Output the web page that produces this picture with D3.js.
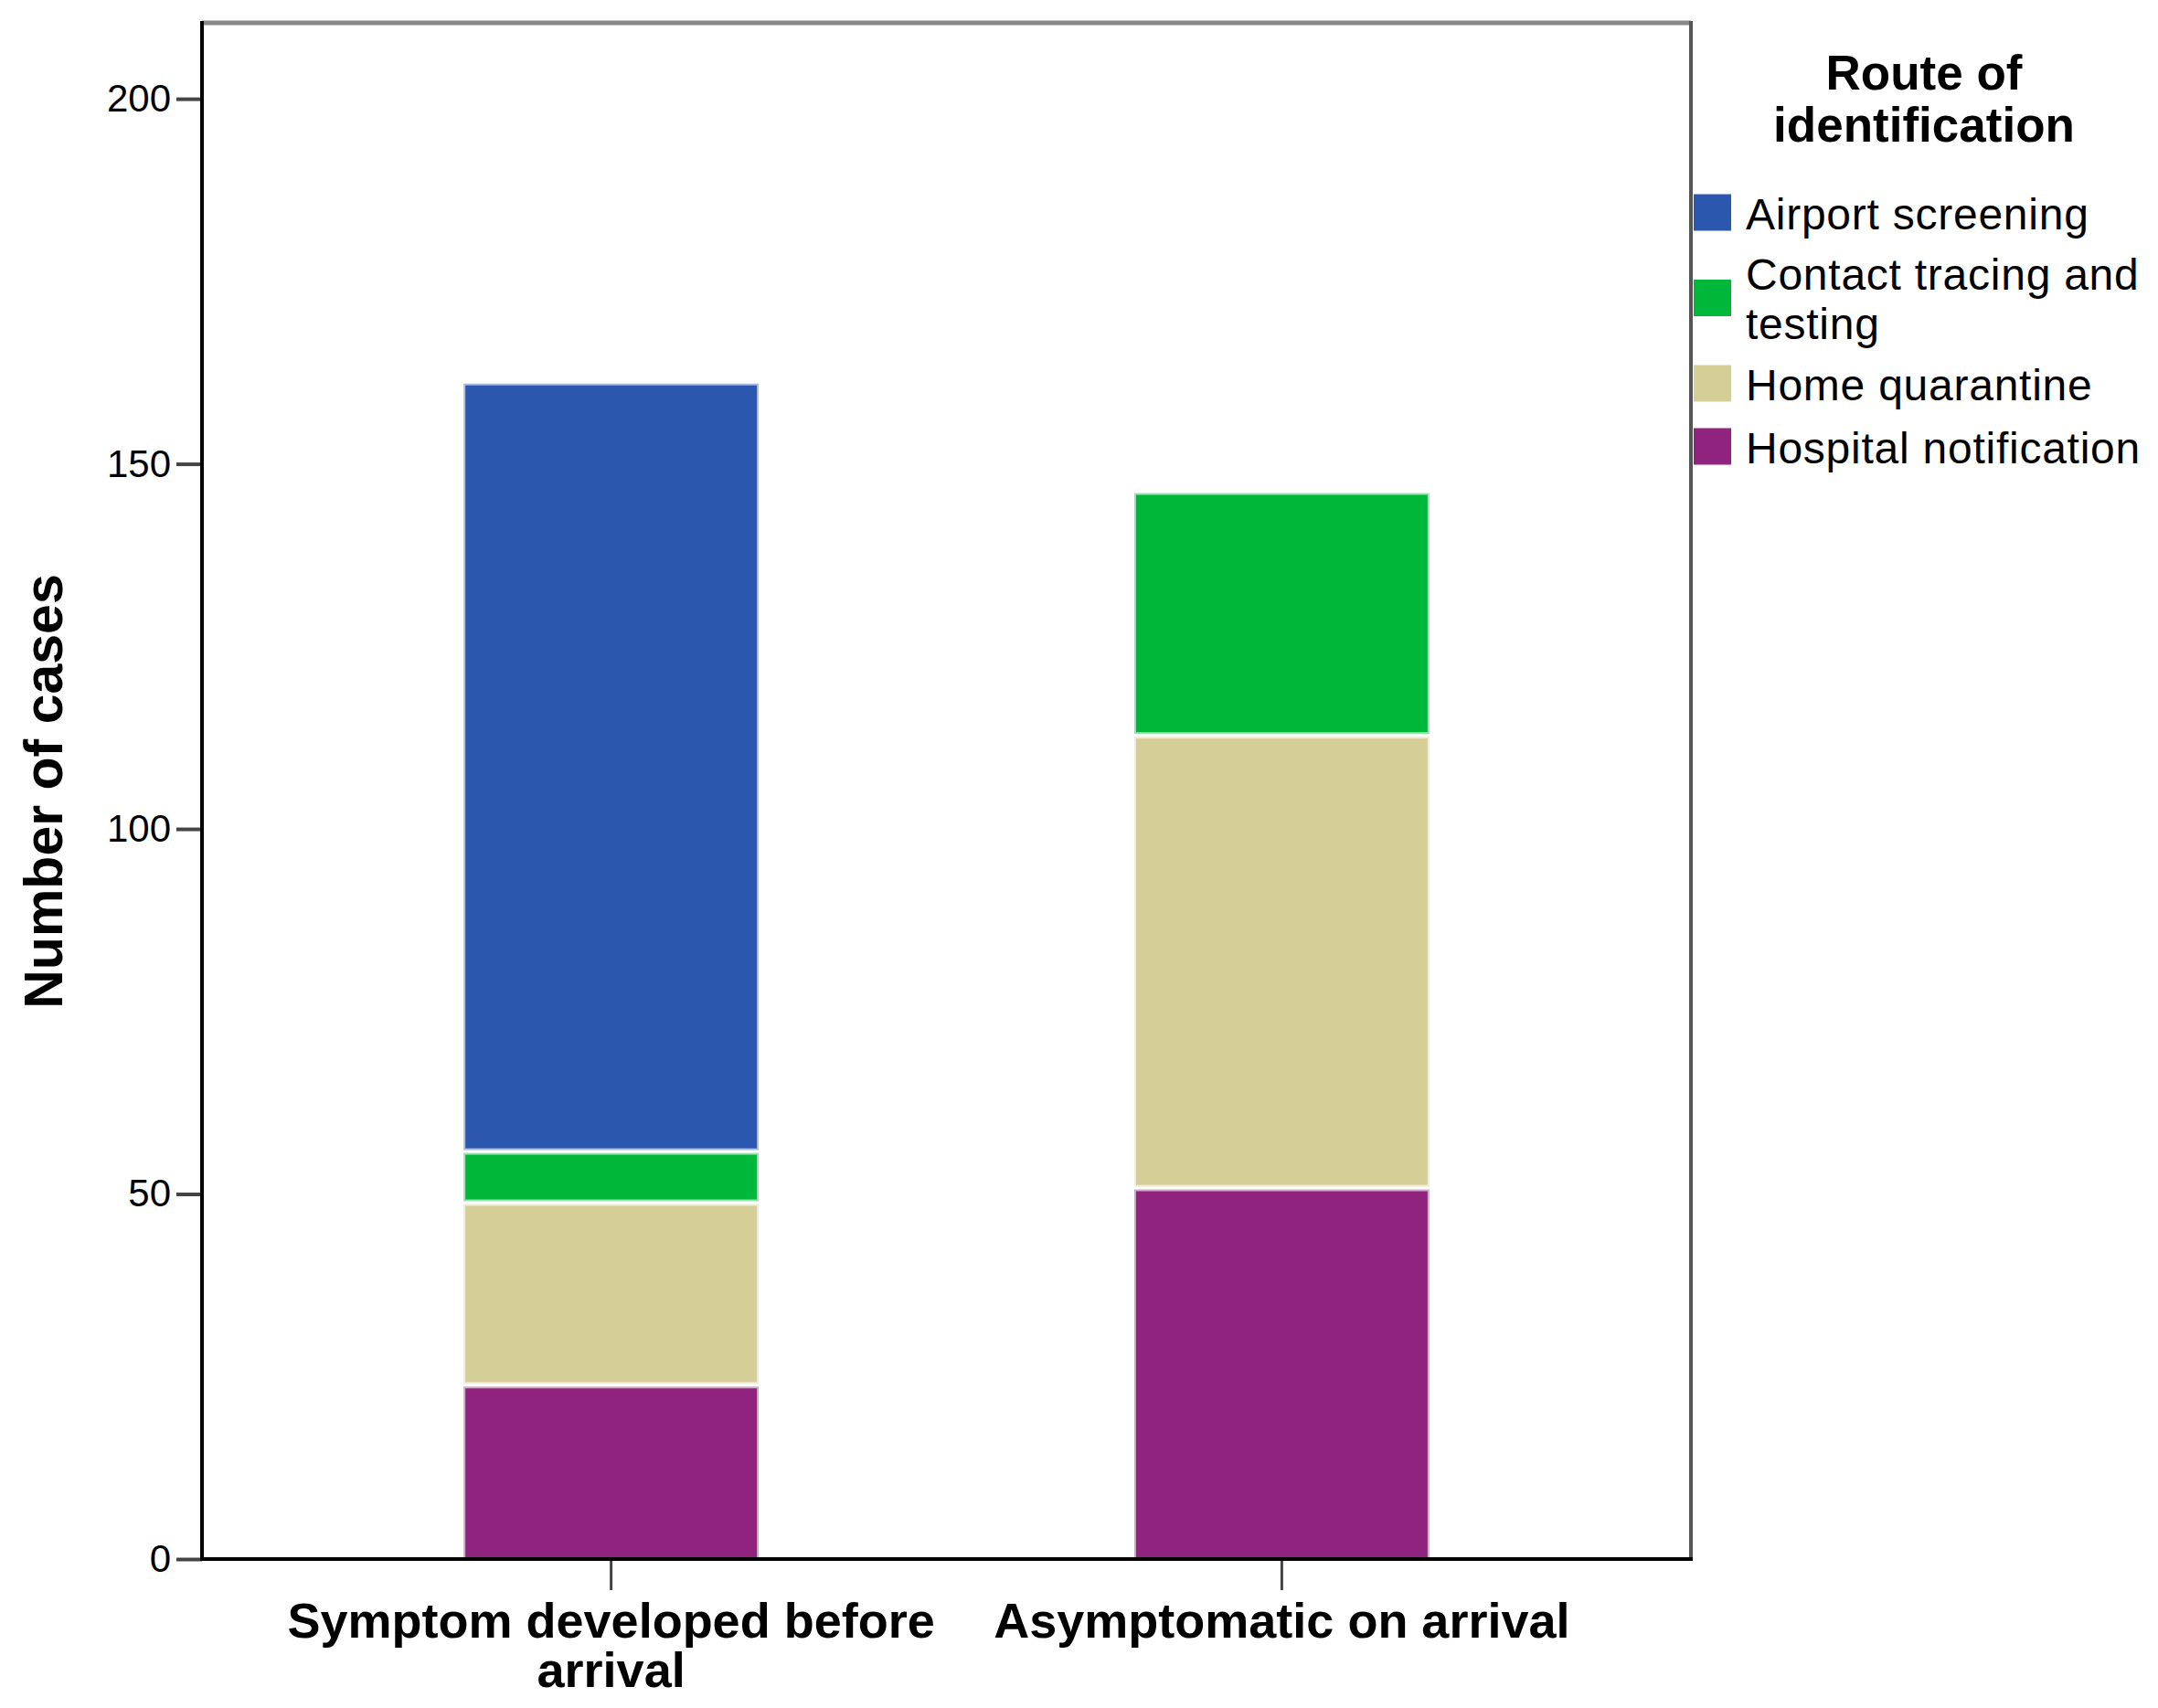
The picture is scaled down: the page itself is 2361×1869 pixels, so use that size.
<!DOCTYPE html>
<html>
<head>
<meta charset="utf-8">
<script src="https://cdn.jsdelivr.net/npm/d3@7"></script>
<style>
  body { margin: 0; background: #fff; }
  text { font-family: "Liberation Sans", Arial, sans-serif; }
</style>
</head>
<body>
<script>
// categories on the x axis
const categories = ["Symptom developed before arrival", "Asymptomatic on arrival"];

// counts per route, one value per category
const airportScreening = [105, 0];
const contactTracing = [7, 33];
const homeQuarantine = [25, 62];
const hospitalNotification = [24, 51];

// series, bottom of the stack first
const seriesKeys = ["Hospital notification", "Home quarantine", "Contact tracing and testing", "Airport screening"];
const seriesColors = ["#8F237E", "#D5CF97", "#00B739", "#2B58AE"];
// legend order (top to bottom)
const legendKeys = ["Airport screening", "Contact tracing and testing", "Home quarantine", "Hospital notification"];

const yTicks = [0, 50, 100, 150, 200];
const yMax = 210.4;

function drawChart() {
  const w = 2361;
  const h = 1869;
  const plot = { left: 221, right: 1850, top: 25, bottom: 1706 };

  // build rows for d3.stack
  const rows = categories.map((c, i) => ({
    category: c,
    "Airport screening": airportScreening[i],
    "Contact tracing and testing": contactTracing[i],
    "Home quarantine": homeQuarantine[i],
    "Hospital notification": hospitalNotification[i]
  }));
  const stacked = d3.stack().keys(seriesKeys)(rows);

  const color = d3.scaleOrdinal().domain(seriesKeys).range(seriesColors);

  const x = d3.scaleBand()
    .domain(categories)
    .range([plot.left, plot.right])
    .paddingInner(0.56)
    .paddingOuter(0.39);

  const y = d3.scaleLinear()
    .domain([0, yMax])
    .range([plot.bottom, plot.top]);

  const svg = d3.select("body")
    .append("svg")
    .attr("width", w)
    .attr("height", h);

  // total height of each bar, so the top segment gets no gap
  const totals = categories.map((c, i) => d3.max(stacked, s => s[i][1]));

  // bars
  const gap = 4;
  svg.append("g")
    .selectAll("g")
    .data(stacked).enter()
    .append("g")
    .attr("fill", d => color(d.key))
    .attr("stroke", d => d3.interpolateRgb(color(d.key), "#fff")(0.6))
    .attr("stroke-width", 2)
    .selectAll("rect")
    .data(d => d.map((v, i) => ({ v, i })).filter(p => p.v[1] - p.v[0] > 0))
    .enter()
    .append("rect")
    .attr("x", d => x(categories[d.i]) + 1)
    .attr("width", x.bandwidth() - 2)
    .attr("y", d => y(d.v[1]) + (d.v[1] === totals[d.i] ? 1 : gap))
    .attr("height", d => {
      const top = y(d.v[1]) + (d.v[1] === totals[d.i] ? 1 : gap);
      return Math.max(0, y(d.v[0]) - top - 1);
    });

  // y axis
  const yAxis = svg.append("g")
    .attr("transform", `translate(${plot.left},0)`)
    .call(d3.axisLeft(y).tickValues(yTicks).tickSize(28).tickSizeOuter(0).tickPadding(6));
  yAxis.select(".domain").remove();
  yAxis.selectAll(".tick line").attr("stroke", "#444").attr("stroke-width", 4);
  yAxis.selectAll(".tick text")
    .attr("fill", "#000")
    .style("font-size", "42px");

  // x axis
  const xAxis = svg.append("g")
    .attr("transform", `translate(0,${plot.bottom})`)
    .call(d3.axisBottom(x).tickSize(34).tickSizeOuter(0).tickPadding(14));
  xAxis.select(".domain").remove();
  xAxis.selectAll(".tick line").attr("stroke", "#444").attr("stroke-width", 3);
  xAxis.selectAll(".tick text")
    .attr("fill", "#000")
    .style("font-size", "54px")
    .style("font-weight", "bold")
    .call(wrap, 720);

  // frame
  svg.append("line")
    .attr("x1", plot.left).attr("x2", plot.right)
    .attr("y1", plot.top).attr("y2", plot.top)
    .attr("stroke", "#888").attr("stroke-width", 5);
  svg.append("line")
    .attr("x1", plot.right).attr("x2", plot.right)
    .attr("y1", plot.top - 2).attr("y2", plot.bottom)
    .attr("stroke", "#555").attr("stroke-width", 4);
  svg.append("line")
    .attr("x1", plot.left).attr("x2", plot.left)
    .attr("y1", plot.top - 2).attr("y2", plot.bottom + 2)
    .attr("stroke", "#000").attr("stroke-width", 4);
  svg.append("line")
    .attr("x1", plot.left - 2).attr("x2", plot.right + 2)
    .attr("y1", plot.bottom).attr("y2", plot.bottom)
    .attr("stroke", "#000").attr("stroke-width", 4);

  // y axis title
  svg.append("text")
    .attr("transform", "translate(68,866) rotate(-90)")
    .attr("text-anchor", "middle")
    .style("font-size", "59px")
    .style("font-weight", "bold")
    .text("Number of cases");

  // legend
  const legend = svg.append("g");
  legend.append("text")
    .attr("x", 2105)
    .attr("text-anchor", "middle")
    .style("font-size", "53px")
    .style("font-weight", "bold")
    .selectAll("tspan")
    .data(["Route of", "identification"]).enter()
    .append("tspan")
    .attr("x", 2105)
    .attr("y", (d, i) => 98 + i * 57)
    .text(d => d);

  const lineH = 54;
  const itemLines = { "Contact tracing and testing": ["Contact tracing and", "testing"] };
  let cursor = 198;
  legendKeys.forEach(key => {
    const lines = itemLines[key] || [key];
    const itemH = 69 + (lines.length - 1) * 49;
    const cy = cursor + itemH / 2;
    legend.append("rect")
      .attr("x", 1853)
      .attr("y", cy - 20)
      .attr("width", 41)
      .attr("height", 40)
      .attr("fill", color(key));
    lines.forEach((line, i) => {
      legend.append("text")
        .attr("x", 1910)
        .attr("y", cy + 18 - (lines.length - 1) * lineH / 2 + i * lineH)
        .style("font-size", "48px")
        .style("letter-spacing", "0.75px")
        .text(line);
    });
    cursor += itemH;
  });

  function wrap(text, width) {
    text.each(function() {
      const t = d3.select(this);
      const words = t.text().split(/\s+/);
      const yy = t.attr("y");
      const dy = parseFloat(t.attr("dy"));
      let line = [];
      let lineNo = 0;
      let tspan = t.text(null).append("tspan").attr("x", 0).attr("y", yy).attr("dy", dy + "em");
      words.forEach(word => {
        line.push(word);
        tspan.text(line.join(" "));
        if (tspan.node().getComputedTextLength() > width && line.length > 1) {
          line.pop();
          tspan.text(line.join(" "));
          line = [word];
          tspan = t.append("tspan").attr("x", 0).attr("y", yy)
            .attr("dy", (++lineNo) * 1.0 + dy + "em").text(word);
        }
      });
    });
  }
}

drawChart();
</script>
</body>
</html>
